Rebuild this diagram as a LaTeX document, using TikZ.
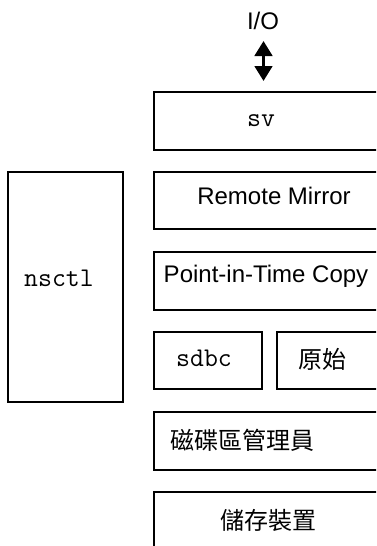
\documentclass[tikz,border=0pt]{standalone}
\usepackage{fontspec}
\setmainfont{Liberation Sans}
\newfontfamily\cjkfont{Noto Sans CJK TC}
\usetikzlibrary{arrows.meta}
\tikzset{
  box/.style={draw, line width=1.8pt, rectangle, inner sep=0pt, anchor=north west},
  lbl/.style={font=\fontsize{24}{28}\selectfont, inner sep=0pt, anchor=center},
  mono/.style={font=\fontsize{27}{30}\selectfont\ttfamily, inner sep=0pt, anchor=base},
  cjk/.style={font=\fontsize{24}{28}\selectfont\cjkfont, inner sep=0pt, anchor=center},
  dblarrow/.style={line width=3.2pt, {Triangle[width=17.5pt,length=15pt]}-{Triangle[width=17.5pt,length=15pt]}}
}
\begin{document}
\begin{tikzpicture}[x=1pt,y=-1pt]
\useasboundingbox (0,0) rectangle (376,546);
\clip (0,0) rectangle (376,546);
% boxes
\node[box, minimum width=260pt, minimum height=58pt] (sv) at (153,91) {};
\node[box, minimum width=260pt, minimum height=57pt] (rm) at (153,171) {};
\node[box, minimum width=115pt, minimum height=230pt] (nsctl) at (7,171) {};
\node[box, minimum width=260pt, minimum height=58pt] (pit) at (153,251) {};
\node[box, minimum width=108pt, minimum height=57pt] (sdbc) at (153,331) {};
\node[box, minimum width=150pt, minimum height=57pt] (raw) at (276,331) {};
\node[box, minimum width=260pt, minimum height=58pt] (vm) at (153,411) {};
\node[box, minimum width=260pt, minimum height=60pt] (st) at (153,491) {};
% texts
\node[lbl] (io) at (263,21) {I/O};
\node[mono] (tsv) at (261,126) {sv};
\node[lbl] (trm) at (274,196) {Remote Mirror};
\node[mono] (tnsctl) at (59,286) {nsctl};
\node[lbl] (tpit) at (266,276.5) {Point-in-Time Copy};
\node[mono] (tsdbc) at (204,366.5) {sdbc};
\node[cjk] (traw) at (322.5,359.5) {原始};
\node[cjk] (tvm) at (242.5,440) {磁碟區管理員};
\node[cjk] (tst) at (268.5,520) {儲存裝置};
% arrow
\coordinate (atop) at (263.5,41);
\coordinate (abot) at (263.5,81);
\draw[dblarrow] (atop) -- (abot);
\end{tikzpicture}
\end{document}
